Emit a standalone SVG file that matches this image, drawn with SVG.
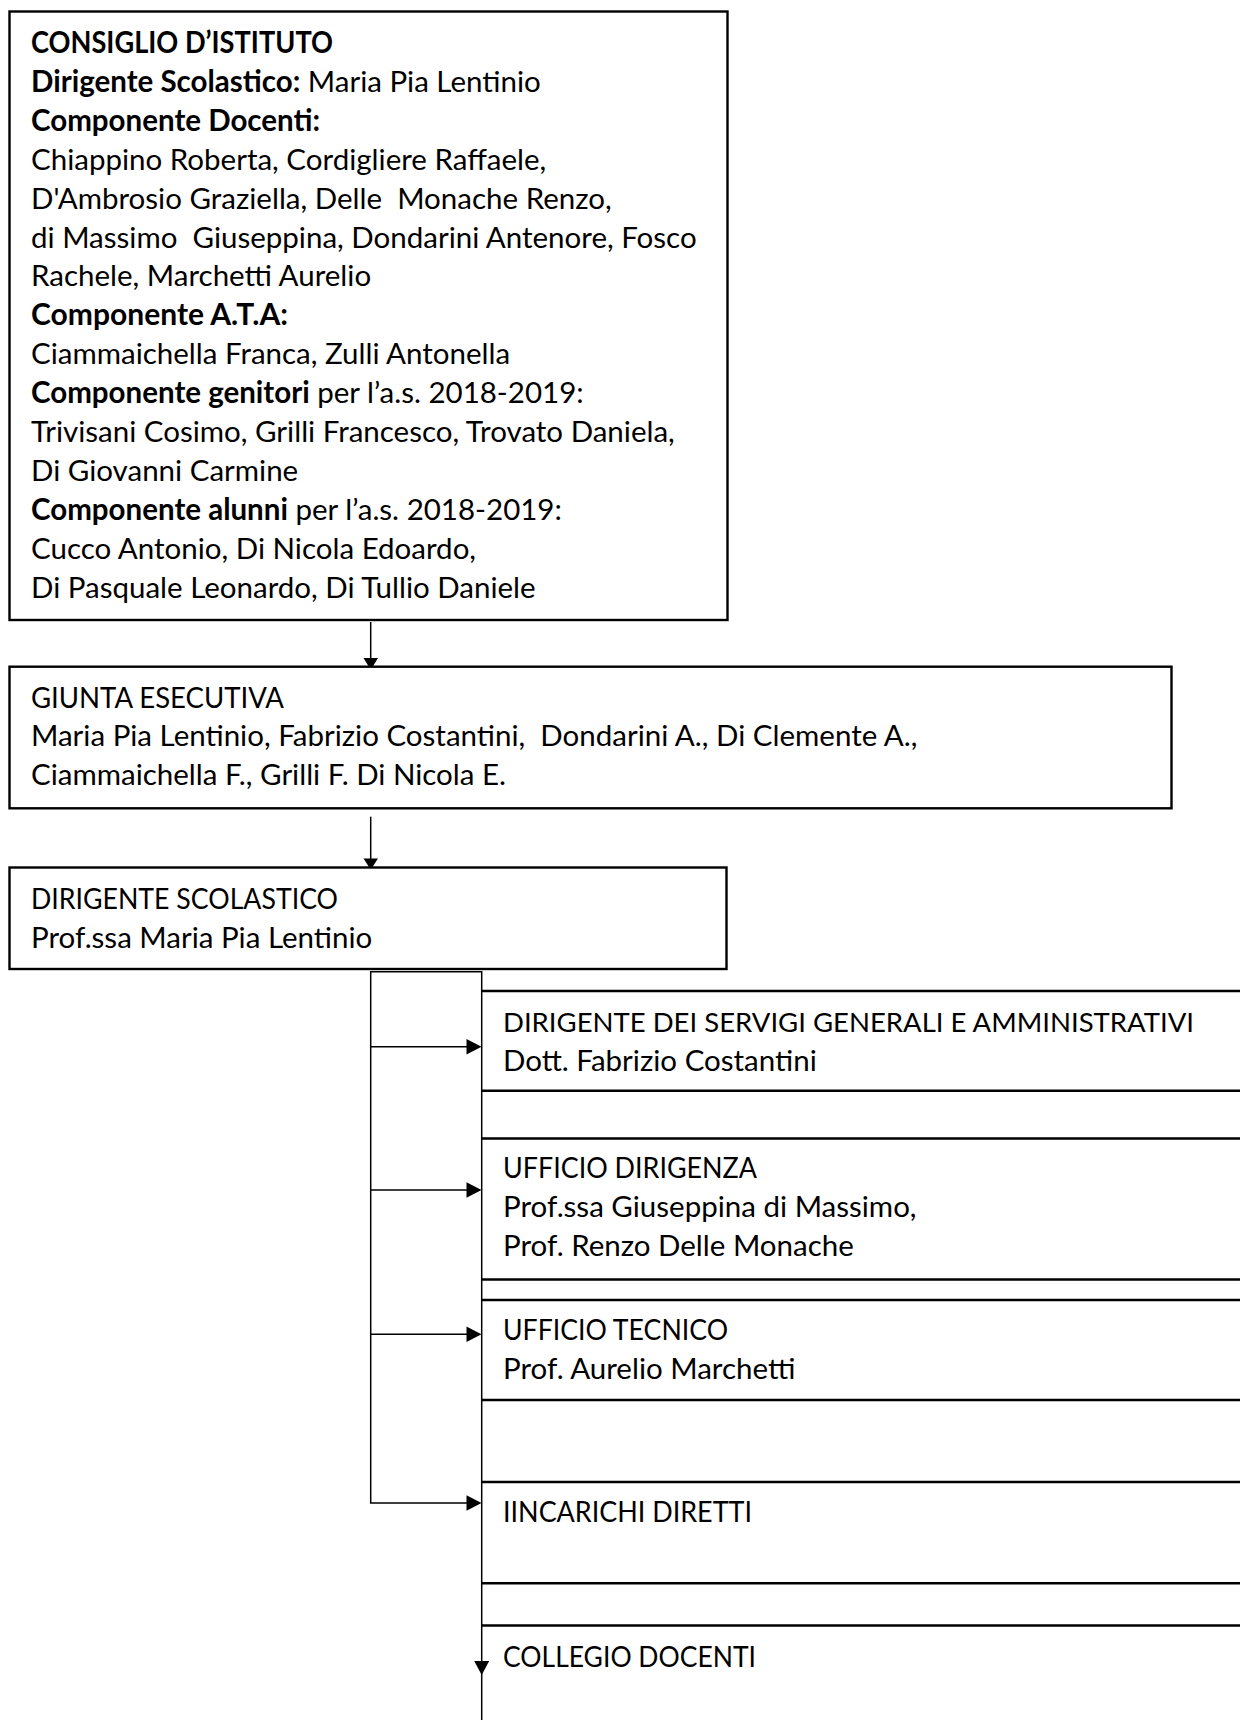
<svg xmlns="http://www.w3.org/2000/svg" width="1240" height="1720" viewBox="0 0 1240 1720">
<style>
.bg{fill:#fff}
.box{fill:#fff;stroke:#000;stroke-width:2.4}
.edge{fill:none;stroke:#000;stroke-width:2.4}
.t{font-family:Lato,"Liberation Sans",sans-serif;font-size:29.5px;fill:#000;white-space:pre}
.b{font-weight:bold}
.conn{stroke:#000;stroke-width:1.5;fill:none}
.ah{fill:#000}
</style>
<rect class="bg" x="0" y="0" width="1240" height="1720"/>
<g id="connectors">
  <line class="conn" x1="370.7" y1="622" x2="370.7" y2="660"/>
  <polygon class="ah" points="363.5,658 378,658 372.5,667 369,667"/>
  <line class="conn" x1="370.7" y1="816.7" x2="370.7" y2="860"/>
  <polygon class="ah" points="363.5,858.5 378,858.5 372.5,867 369,867"/>
  <path class="conn" d="M467 1503 H370.7 V971.7 H481.7 V1720"/>
  <line class="conn" x1="370.7" y1="1046.7" x2="467" y2="1046.7"/>
  <line class="conn" x1="370.7" y1="1190" x2="467" y2="1190"/>
  <line class="conn" x1="370.7" y1="1334.3" x2="467" y2="1334.3"/>
  <polygon class="ah" points="466.5,1039 481.5,1046.7 466.5,1054.4"/>
  <polygon class="ah" points="466.5,1182.3 481.5,1190 466.5,1197.7"/>
  <polygon class="ah" points="466.5,1326.6 481.5,1334.3 466.5,1342"/>
  <polygon class="ah" points="466.5,1495.3 481.5,1503 466.5,1510.7"/>
  <polygon class="ah" points="474.2,1661 489.2,1661 481.7,1675"/>
</g>
<g id="consiglio">
  <rect class="box" x="9.5" y="11.5" width="718" height="608.5"/>
  <text class="t b" x="31" y="53" textLength="302" lengthAdjust="spacingAndGlyphs">CONSIGLIO D’ISTITUTO</text>
  <text class="t" x="31" y="91.9"><tspan class="b">Dirigente Scolastico:</tspan> Maria Pia Lentinio</text>
  <text class="t b" x="31" y="130.8">Componente Docenti:</text>
  <text class="t" x="31" y="169.7">Chiappino Roberta, Cordigliere Raffaele,</text>
  <text class="t" x="31" y="208.6">D'Ambrosio Graziella, Delle  Monache Renzo,</text>
  <text class="t" x="31" y="247.5">di Massimo  Giuseppina, Dondarini Antenore, Fosco</text>
  <text class="t" x="31" y="286.4">Rachele, Marchetti Aurelio</text>
  <text class="t b" x="31" y="325.3" textLength="257" lengthAdjust="spacingAndGlyphs">Componente A.T.A:</text>
  <text class="t" x="31" y="364.2">Ciammaichella Franca, Zulli Antonella</text>
  <text class="t" x="31" y="403.1"><tspan class="b">Componente genitori</tspan> per l’a.s. 2018-2019:</text>
  <text class="t" x="31" y="442">Trivisani Cosimo, Grilli Francesco, Trovato Daniela,</text>
  <text class="t" x="31" y="480.9">Di Giovanni Carmine</text>
  <text class="t" x="31" y="519.8"><tspan class="b">Componente alunni</tspan> per l’a.s. 2018-2019:</text>
  <text class="t" x="31" y="558.7">Cucco Antonio, Di Nicola Edoardo,</text>
  <text class="t" x="31" y="597.6">Di Pasquale Leonardo, Di Tullio Daniele</text>
</g>
<g id="giunta">
  <rect class="box" x="9.5" y="666.7" width="1162" height="141.6"/>
  <text class="t" x="31" y="707.5" textLength="253" lengthAdjust="spacingAndGlyphs">GIUNTA ESECUTIVA</text>
  <text class="t" x="31" y="746.4">Maria Pia Lentinio, Fabrizio Costantini,  Dondarini A., Di Clemente A.,</text>
  <text class="t" x="31" y="785.3">Ciammaichella F., Grilli F. Di Nicola E.</text>
</g>
<g id="dirigente">
  <rect class="box" x="9.5" y="867.5" width="717" height="101.5"/>
  <text class="t" x="31" y="909.3" textLength="307" lengthAdjust="spacingAndGlyphs">DIRIGENTE SCOLASTICO</text>
  <text class="t" x="31" y="948.2">Prof.ssa Maria Pia Lentinio</text>
</g>
<g id="dsga">
  <path class="edge" d="M482 991 H1245 M482 1090.7 H1245"/>
  <text class="t" x="503" y="1031.7" style="font-size:27.5px" textLength="691" lengthAdjust="spacingAndGlyphs">DIRIGENTE DEI SERVIGI GENERALI E AMMINISTRATIVI</text>
  <text class="t" x="503" y="1070.5">Dott. Fabrizio Costantini</text>
</g>
<g id="ufficio-dirigenza">
  <path class="edge" d="M482 1138.5 H1245 M482 1279.5 H1245"/>
  <text class="t" x="503" y="1178.3" textLength="254" lengthAdjust="spacingAndGlyphs">UFFICIO DIRIGENZA</text>
  <text class="t" x="503" y="1217.2">Prof.ssa Giuseppina di Massimo,</text>
  <text class="t" x="503" y="1256.1">Prof. Renzo Delle Monache</text>
</g>
<g id="ufficio-tecnico">
  <path class="edge" d="M482 1300 H1245 M482 1400 H1245"/>
  <text class="t" x="503" y="1340" textLength="225" lengthAdjust="spacingAndGlyphs">UFFICIO TECNICO</text>
  <text class="t" x="503" y="1378.9">Prof. Aurelio Marchetti</text>
</g>
<g id="incarichi">
  <path class="edge" d="M482 1482 H1245 M482 1583.3 H1245"/>
  <text class="t" x="503" y="1521.7" textLength="249" lengthAdjust="spacingAndGlyphs">IINCARICHI DIRETTI</text>
</g>
<g id="collegio">
  <path class="edge" d="M482 1625.5 H1245"/>
  <text class="t" x="503" y="1666.7" textLength="253" lengthAdjust="spacingAndGlyphs">COLLEGIO DOCENTI</text>
</g>
</svg>
